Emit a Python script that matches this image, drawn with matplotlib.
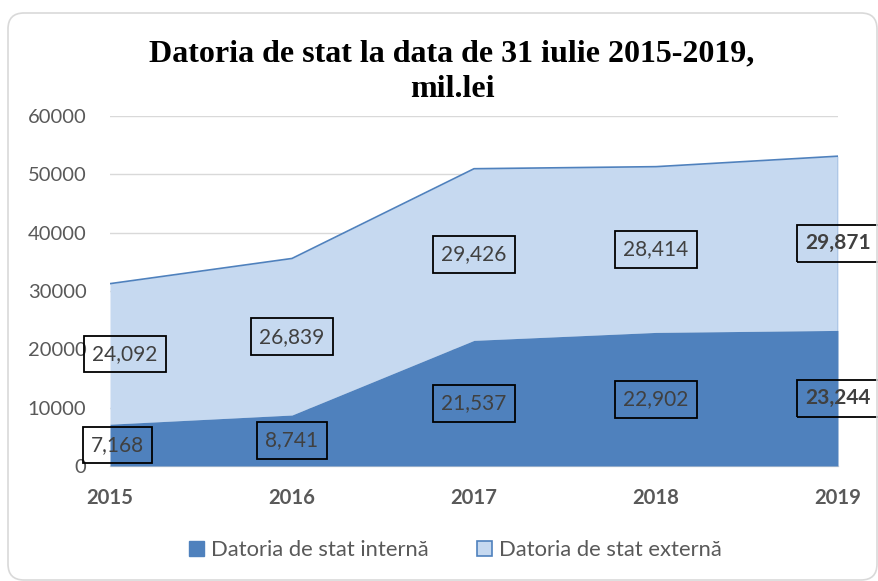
import matplotlib
matplotlib.use("Agg")
import matplotlib.pyplot as plt
from matplotlib.patches import FancyBboxPatch, Patch

years = ["2015", "2016", "2017", "2018", "2019"]
interna = [7168, 8741, 21537, 22902, 23244]
externa = [24092, 26839, 29426, 28414, 29871]
yticks = [0, 10000, 20000, 30000, 40000, 50000, 60000]
title = "Datoria de stat la data de 31 iulie 2015-2019,\nmil.lei"
legend_labels = ["Datoria de stat internă", "Datoria de stat externă"]

c_int = "#4F81BD"
c_ext = "#C6D9F0"
c_txt = "#404040"
c_tick = "#595959"

W, H = 879, 581
fig = plt.figure(figsize=(W / 100, H / 100), dpi=100)
fig.patch.set_facecolor("white")

# chart border (rounded)
border = FancyBboxPatch((8 / 100, (H - 580) / 100), (877 - 8) / 100, (580 - 13) / 100,
                        boxstyle="round,pad=0,rounding_size=0.16",
                        transform=fig.dpi_scale_trans, facecolor="none",
                        edgecolor="#D9D9D9", linewidth=1.2, zorder=0)
fig.patches.append(border)

ax = fig.add_axes([110 / W, 1 - 466 / H, (838 - 110) / W, (466 - 116) / H])
x = list(range(len(years)))
total = [a + b for a, b in zip(interna, externa)]

ax.fill_between(x, 0, interna, color=c_int, linewidth=0, zorder=3)
ax.fill_between(x, interna, total, color=c_ext, linewidth=0, zorder=2)
ax.plot(x, total, color=c_int, linewidth=1.2, zorder=4)
ax.plot([x[-1], x[-1]], [interna[-1], total[-1]], color=c_int, linewidth=1.0, zorder=4)

ax.set_xlim(0, len(years) - 1)
ax.set_ylim(0, 60000)
ax.set_yticks(yticks)
ax.set_yticklabels([str(v) for v in yticks], fontsize=14.5, color=c_tick, family="Lato")
ax.set_xticks(x)
ax.set_xticklabels(years, fontsize=14.6, color=c_tick, family="Lato", fontweight="bold")
ax.tick_params(axis="y", length=0, pad=17)
ax.tick_params(axis="x", length=0, pad=16)
ax.grid(axis="y", color="#D9D9D9", linewidth=1.0, zorder=1)
ax.set_axisbelow(True)
for s in ["left", "right", "top"]:
    ax.spines[s].set_visible(False)
ax.spines["bottom"].set_color("#D9D9D9")
ax.spines["bottom"].set_linewidth(1.0)
ax.set_facecolor("none")

# data labels
offsets_int = [5.4, 0, 0, 0, 0]
offsets_ext = [10.8, 0, 0, 0, 0]
for i in x:
    bold = "bold" if i == len(years) - 1 else "normal"
    for val, ycen, dx in [(interna[i], interna[i] / 2, offsets_int[i]),
                          (externa[i], interna[i] + externa[i] / 2, offsets_ext[i])]:
        ax.annotate(f"{val:,}", xy=(i, ycen), xytext=(dx, 0), textcoords="offset points",
                    ha="center", va="center", fontsize=15, color=c_txt, family="Lato",
                    fontweight=bold, zorder=6, annotation_clip=False,
                    bbox=dict(boxstyle="square,pad=0.4", facecolor="none",
                              edgecolor="black", linewidth=1.3))

fig.text(452 / W, 1 - 72 / H, title, ha="center", va="center", fontsize=23,
         family="Liberation Serif", fontweight="bold", color="black", linespacing=1.3)

handles = [Patch(facecolor=c_int, edgecolor=c_int),
           Patch(facecolor=c_ext, edgecolor=c_int, linewidth=1.2)]
fig.legend(handles, legend_labels, loc="center", bbox_to_anchor=(455 / W, 1 - 550 / H),
           ncol=2, frameon=False, handlelength=0.7, handleheight=0.7,
           handletextpad=0.3, columnspacing=2.2,
           prop={"family": "Lato", "size": 15.8}, labelcolor=c_tick)

fig.savefig("out.png", dpi=100)
